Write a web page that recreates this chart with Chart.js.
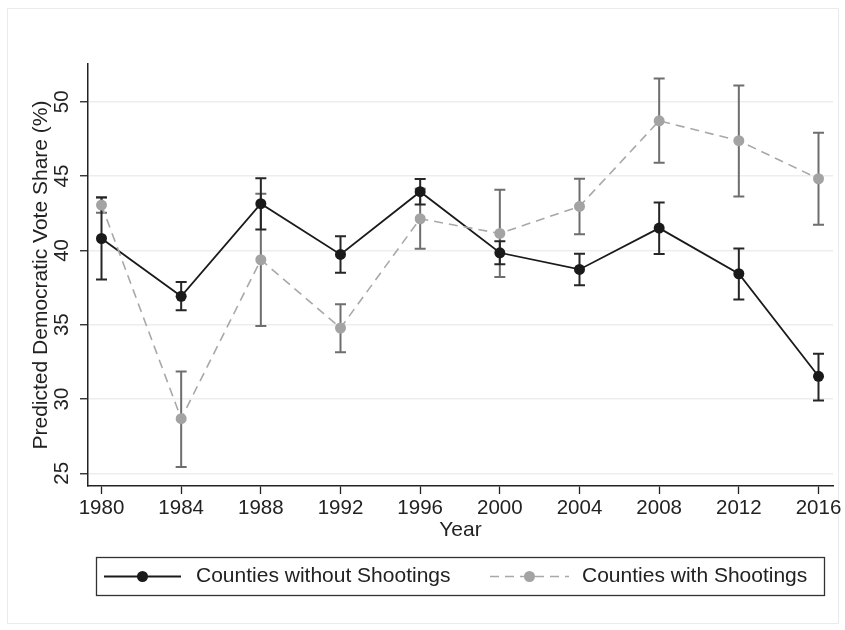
<!DOCTYPE html>
<html><head><meta charset="utf-8">
<script src="https://cdn.jsdelivr.net/npm/chart.js@4/dist/chart.umd.min.js"></script>
<style>html,body{margin:0;padding:0;background:#fff}canvas{display:block}</style>
</head><body>
<canvas id="c" width="845" height="630"></canvas>
<script>
// ---- data ----
const years = [1980, 1984, 1988, 1992, 1996, 2000, 2004, 2008, 2012, 2016];
const withoutShootings = [40.80, 36.91, 43.14, 39.73, 43.95, 39.84, 38.72, 41.50, 38.43, 31.53];
const withoutLower     = [38.05, 35.97, 41.41, 38.50, 43.09, 39.07, 37.65, 39.75, 36.70, 29.91];
const withoutUpper     = [43.56, 37.87, 44.86, 40.96, 44.80, 40.61, 39.78, 43.23, 40.13, 33.05];
const withShootings    = [43.05, 28.68, 39.37, 34.78, 42.13, 41.14, 42.96, 48.72, 47.38, 44.82];
const withLower        = [42.53, 25.43, 34.91, 33.14, 40.11, 38.21, 41.08, 45.90, 43.63, 41.73];
const withUpper        = [43.57, 31.86, 43.81, 36.37, 44.15, 44.08, 44.82, 51.57, 51.10, 47.92];
const yTicks = [25, 30, 35, 40, 45, 50];
const seriesLabels = ['Counties without Shootings', 'Counties with Shootings'];
const xTitle = 'Year';
const yTitle = 'Predicted Democratic Vote Share (%)';

const FONT = "'Liberation Sans', Arial, Helvetica, sans-serif";
const INK = '#222222';

const frame = {
  id: 'frame',
  beforeDraw(chart) {
    const ctx = chart.ctx;
    ctx.save();
    ctx.fillStyle = '#ffffff';
    ctx.fillRect(0, 0, chart.width, chart.height);
    ctx.strokeStyle = '#ebebeb';
    ctx.lineWidth = 1;
    ctx.strokeRect(7.5, 8.5, 831, 615);
    ctx.restore();
  }
};

const errorBars = {
  id: 'errorBars',
  beforeDatasetsDraw(chart) {
    const {ctx, scales: {x, y}} = chart;
    const sets = [
      {lo: withLower, hi: withUpper, color: '#6e6e6e'},
      {lo: withoutLower, hi: withoutUpper, color: '#262626'}
    ];
    ctx.save();
    ctx.lineWidth = 2;
    ctx.lineCap = 'butt';
    sets.forEach(s => {
      ctx.strokeStyle = s.color;
      years.forEach((yr, i) => {
        const px = x.getPixelForValue(yr);
        const y0 = y.getPixelForValue(s.lo[i]);
        const y1 = y.getPixelForValue(s.hi[i]);
        ctx.beginPath();
        ctx.moveTo(px, y0); ctx.lineTo(px, y1);
        ctx.moveTo(px - 5.5, y0); ctx.lineTo(px + 5.5, y0);
        ctx.moveTo(px - 5.5, y1); ctx.lineTo(px + 5.5, y1);
        ctx.stroke();
      });
    });
    ctx.restore();
  }
};

const legendBox = {
  id: 'legendBox',
  afterDraw(chart) {
    const ctx = chart.ctx;
    const ds = chart.data.datasets;
    const box = {x: 96.5, y: 557.5, w: 728, h: 38};
    ctx.save();
    ctx.strokeStyle = '#333333';
    ctx.lineWidth = 1.3;
    ctx.strokeRect(box.x, box.y, box.w, box.h);
    const cy = box.y + box.h / 2;
    const items = [{x0: 104, x1: 181, tx: 196}, {x0: 490, x1: 569, tx: 582}];
    ds.forEach((d, i) => {
      const it = items[i];
      ctx.strokeStyle = d.borderColor;
      ctx.lineWidth = d.borderWidth;
      ctx.setLineDash(d.borderDash || []);
      ctx.beginPath(); ctx.moveTo(it.x0, cy); ctx.lineTo(it.x1, cy); ctx.stroke();
      ctx.setLineDash([]);
      ctx.fillStyle = d.pointBackgroundColor;
      ctx.beginPath(); ctx.arc((it.x0 + it.x1) / 2, cy, 5.5, 0, Math.PI * 2); ctx.fill();
      ctx.fillStyle = INK;
      ctx.font = '21px ' + FONT;
      ctx.textBaseline = 'middle';
      ctx.textAlign = 'left';
      ctx.fillText(d.label, it.tx, cy);
    });
    ctx.restore();
  }
};

const toPts = arr => years.map((yr, i) => ({x: yr, y: arr[i]}));

new Chart(document.getElementById('c'), {
  type: 'line',
  data: {
    datasets: [
      {
        label: seriesLabels[0], data: toPts(withoutShootings),
        borderColor: '#1a1a1a', backgroundColor: '#1a1a1a', borderWidth: 1.8,
        pointRadius: 5.5, pointBorderWidth: 0, pointBackgroundColor: '#1a1a1a', pointBorderColor: '#1a1a1a',
        tension: 0, fill: false, order: 1
      },
      {
        label: seriesLabels[1], data: toPts(withShootings),
        borderColor: '#a8a8a8', backgroundColor: '#a3a3a3', borderWidth: 1.6, borderDash: [9, 6],
        pointRadius: 5.5, pointBorderWidth: 0, pointBackgroundColor: '#a3a3a3', pointBorderColor: '#a3a3a3',
        tension: 0, fill: false, order: 0
      }
    ]
  },
  options: {
    responsive: false, animation: false, devicePixelRatio: 1,
    layout: {padding: {left: 0, top: 64, right: 12, bottom: 84}},
    plugins: {legend: {display: false}, tooltip: {enabled: false}},
    scales: {
      x: {
        type: 'linear', min: 1979.322, max: 2016.728,
        afterBuildTicks: s => { s.ticks = years.map(v => ({value: v})); },
        afterFit: s => { s.height = 60; },
        grid: {display: true, drawOnChartArea: false, drawTicks: true, tickLength: 8, tickColor: INK, tickWidth: 1.3},
        border: {display: true, color: INK, width: 1.5},
        ticks: {color: INK, font: {family: FONT, size: 20.5}, padding: 2, maxRotation: 0, minRotation: 0, autoSkip: false, callback: v => String(v)},
        title: {display: true, text: xTitle, color: INK, font: {family: FONT, size: 21}, padding: {top: 0, bottom: 3.5}}
      },
      y: {
        type: 'linear', min: 24.15, max: 52.54,
        afterBuildTicks: s => { s.ticks = yTicks.map(v => ({value: v})); },
        afterFit: s => { s.width = 88; },
        grid: {color: '#ededed', lineWidth: 1.5, drawTicks: true, tickLength: 8, tickColor: INK, tickWidth: 1.3},
        border: {display: true, color: INK, width: 1.5},
        ticks: {color: INK, font: {family: FONT, size: 20.5}, padding: 6.4, minRotation: 90, maxRotation: 90, crossAlign: 'center', callback: v => String(v)},
        title: {display: true, text: yTitle, color: INK, font: {family: FONT, size: 21}, padding: {top: 28.4, bottom: 0}}
      }
    }
  },
  plugins: [frame, errorBars, legendBox]
});
</script>
</body></html>
